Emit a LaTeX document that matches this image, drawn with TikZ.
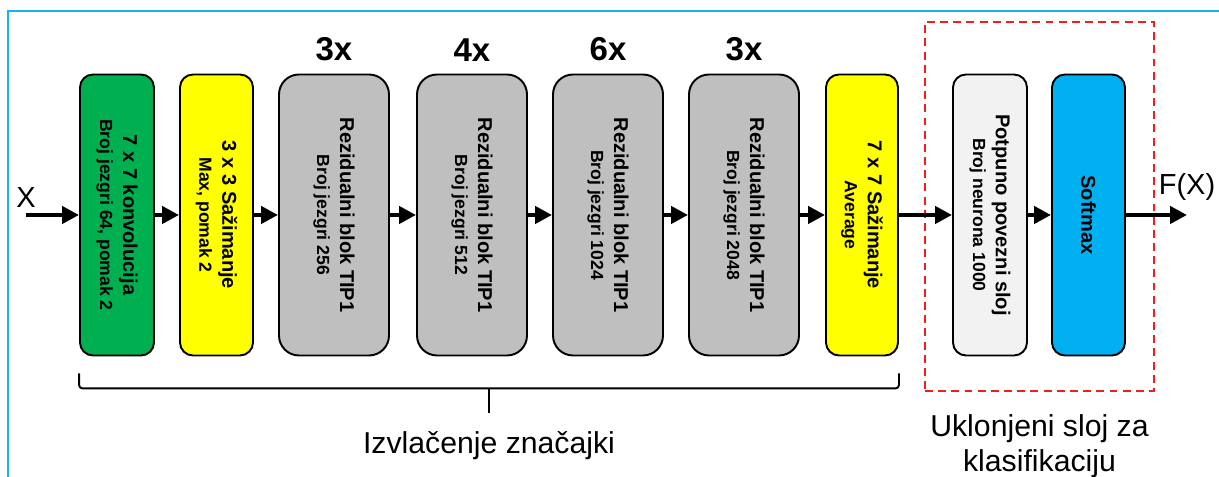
\documentclass[tikz,border=0pt]{standalone}
\usepackage{fontspec}
\setmainfont{Liberation Sans}
\usetikzlibrary{positioning,arrows.meta,calc}
\definecolor{convgreen}{RGB}{0,176,80}
\definecolor{poolyellow}{RGB}{255,255,0}
\definecolor{resgray}{RGB}{191,191,191}
\definecolor{fcwhite}{RGB}{242,242,242}
\definecolor{softblue}{RGB}{0,176,240}
\definecolor{frameblue}{RGB}{20,180,240}
\definecolor{removedred}{RGB}{240,30,30}
\newcommand{\bighead}[1]{{\fontsize{11.4}{13}\selectfont #1}}

\begin{document}
\begin{tikzpicture}[
    >={Triangle[length=0.34cm, width=0.34cm]},
    box/.style={rectangle, rounded corners=0.26cm, draw=black, line width=1.1pt, minimum width=1.48cm, minimum height=5.62cm, inner sep=0pt},
    resbox/.style={box, rounded corners=0.4cm, minimum width=2.2cm, fill=resgray},
    boxtext/.style={rotate=-90, align=center, inner sep=0pt, font=\fontsize{10}{13}\selectfont\bfseries},
    reps/.style={font=\fontsize{18.8}{22}\selectfont\bfseries, inner sep=0pt},
    iolabel/.style={font=\fontsize{16.5}{20}\selectfont, inner sep=0pt},
    grouplabel/.style={font=\fontsize{17.2}{20}\selectfont, align=center, inner sep=0pt},
    arrow/.style={->, line width=2.8pt},
    removedbox/.style={draw=removedred, line width=1.1pt, dash pattern=on 4.5pt off 3pt, minimum width=4.58cm, minimum height=7.38cm, inner sep=0pt}
    ]
    \useasboundingbox (0,0) rectangle (24.38,9.54);
    \draw[frameblue, line width=1pt] (0.16,0) -- (0.16,9.32) -- (24.38,9.32);

    % Feature extraction part
    \node[box, fill=convgreen] (conv) at (2.34,5.24) {};
    \node[box, fill=poolyellow, minimum width=1.46cm] (maxpool) at (4.33,5.24) {};
    \node[resbox] (res1) at (6.68,5.24) {};
    \node[resbox] (res2) at (9.44,5.24) {};
    \node[resbox] (res3) at (12.16,5.24) {};
    \node[resbox] (res4) at (14.88,5.24) {};
    \node[box, fill=poolyellow, minimum width=1.44cm] (avgpool) at (17.24,5.24) {};

    \node[boxtext] (convtxt) at (conv) {\bighead{7 x 7 konvolucija}\\Broj jezgri 64, pomak 2};
    \node[boxtext] (maxpooltxt) at (maxpool) {\bighead{3 x 3 Sažimanje}\\Max, pomak 2};
    \node[boxtext] (res1txt) at (res1) {\bighead{Rezidualni blok TIP1}\\Broj jezgri 256};
    \node[boxtext] (res2txt) at (res2) {\bighead{Rezidualni blok TIP1}\\Broj jezgri 512};
    \node[boxtext] (res3txt) at (res3) {\bighead{Rezidualni blok TIP1}\\Broj jezgri 1024};
    \node[boxtext] (res4txt) at (res4) {\bighead{Rezidualni blok TIP1}\\Broj jezgri 2048};
    \node[boxtext] (avgpooltxt) at (avgpool) {\bighead{7 x 7 Sažimanje}\\Average};

    \node[reps, above=0.24cm of res1] (rep1) {3x};
    \node[reps, above=0.24cm of res2] (rep2) {4x};
    \node[reps, above=0.24cm of res3] (rep3) {6x};
    \node[reps, above=0.24cm of res4] (rep4) {3x};

    % Removed classification part
    \node[removedbox] (removed) at (20.79,5.41) {};
    \node[box, fill=fcwhite] (fc) at (19.80,5.24) {};
    \node[box, fill=softblue, minimum width=1.46cm] (softmax) at (21.77,5.24) {};
    \node[boxtext] (fctxt) at (fc) {\bighead{Potpuno povezni sloj}\\Broj neurona 1000};
    \node[boxtext] (softmaxtxt) at (softmax) {\bighead{Softmax}};

    \coordinate (xin) at (0.52,5.24);
    \coordinate (fout) at (23.74,5.24);
    \node[iolabel, above=0.14cm of xin] (xlbl) {X};
    \node[iolabel, above=0.28cm of fout] (fxlbl) {F(X)};

    \draw[arrow] (xin) -- (conv.west);
    \draw[arrow] (conv.east) -- (maxpool.west);
    \draw[arrow] (maxpool.east) -- (res1.west);
    \draw[arrow] (res1.east) -- (res2.west);
    \draw[arrow] (res2.east) -- (res3.west);
    \draw[arrow] (res3.east) -- (res4.west);
    \draw[arrow] (res4.east) -- (avgpool.west);
    \draw[arrow] (avgpool.east) -- (fc.west);
    \draw[arrow] (fc.east) -- (softmax.west);
    \draw[arrow] (softmax.east) -- (fout);

    % Bracket under the feature extraction blocks
    \coordinate (brl) at ($(conv.south west)+(0,-0.34)$);
    \coordinate (brr) at ($(avgpool.south east)+(0,-0.34)$);
    \draw[line width=1.1pt, rounded corners=2pt] (brl) -- ++(0,-0.30) -| (brr);
    \coordinate (brmid) at ($(brl)!0.5!(brr)+(0,-0.30)$);
    \draw[line width=1.1pt] (brmid) -- ++(0,-0.50) coordinate (brtip);

    \node[grouplabel, below=0.36cm of brtip] (featlbl) {Izvlačenje značajki};
    \node[grouplabel, below=0.44cm of removed] (removedlbl) {Uklonjeni sloj za\\klasifikaciju};
\end{tikzpicture}
\end{document}
